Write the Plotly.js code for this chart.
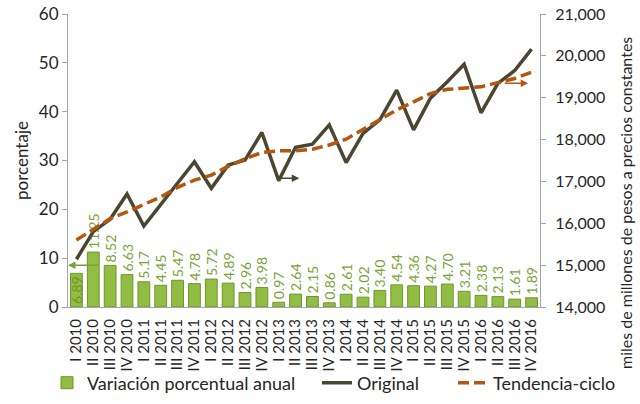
<!DOCTYPE html>
<html>
<head>
<meta charset="utf-8">
<script src="https://cdn.plot.ly/plotly-3.0.1.min.js"></script>
<style>html,body{margin:0;padding:0;background:#fff;}#chart{width:640px;height:404px;}</style>
</head>
<body>
<div id="chart"></div>
<script>
// ---- data ----
var categories = ["I 2010","II 2010","III 2010","IV 2010","I 2011","II 2011","III 2011","IV 2011",
  "I 2012","II 2012","III 2012","IV 2012","I 2013","II 2013","III 2013","IV 2013",
  "I 2014","II 2014","III 2014","IV 2014","I 2015","II 2015","III 2015","IV 2015",
  "I 2016","II 2016","III 2016","IV 2016"];
var variacion = [6.89,11.25,8.52,6.63,5.17,4.45,5.47,4.78,5.72,4.89,2.96,3.98,0.97,2.64,2.15,0.86,
  2.61,2.02,3.40,4.54,4.36,4.27,4.70,3.21,2.38,2.13,1.61,1.89];
var original = [15140,15800,16095,16700,15935,16446,16960,17470,16836,17390,17510,18170,17020,17815,17890,18350,
  17450,18150,18470,19180,18230,18990,19380,19800,18640,19340,19650,20160];
var tendencia = [15600,15850,16110,16270,16440,16630,16860,17030,17150,17360,17540,17690,17730,17730,17770,17870,
  18010,18240,18470,18710,18900,19100,19200,19220,19260,19360,19460,19610];
var seriesNames = ["Variación porcentual anual","Original","Tendencia-ciclo"];
var leftTitle = "porcentaje";
var rightTitle = "miles de millones de pesos a precios constantes";

// ---- styles ----
var FONT = "Lato, 'Open Sans', sans-serif";
var AXC = "#A6A6A6";
var TXT = "#262626";
var GREEN = "#92BD45";
var LABELG = "#7AA33A";

var textPos = variacion.map(function(v, i){ return i === 0 ? "inside" : "outside"; });

var traces = [
  {
    type: "bar", x: categories, y: variacion, name: seriesNames[0],
    yaxis: "y", xaxis: "x", legend: "legend",
    marker: {color: GREEN, line: {color: "#6F962C", width: 1}},
    text: variacion.map(function(v){ return v.toFixed(2); }),
    textposition: textPos, insidetextanchor: "start", textangle: -90,
    textfont: {family: FONT, size: 14, color: LABELG},
    insidetextfont: {family: FONT, size: 14, color: "#6F962C"},
    outsidetextfont: {family: FONT, size: 14, color: LABELG},
    constraintext: "none", cliponaxis: false,
    hoverinfo: "skip"
  },
  {
    type: "scatter", mode: "lines", x: categories, y: original, name: seriesNames[1],
    yaxis: "y2", xaxis: "x", legend: "legend2",
    line: {color: "#4B4631", width: 3.5},
    hoverinfo: "skip"
  },
  {
    type: "scatter", mode: "lines", x: categories, y: tendencia, name: seriesNames[2],
    yaxis: "y2", xaxis: "x", legend: "legend3",
    line: {color: "#B3560F", width: 3.5, dash: "11px,5px"},
    hoverinfo: "skip"
  }
];

var tickBounds = [];
for (var k = 0; k <= categories.length; k += 2) tickBounds.push(k - 0.5);

var plotL = 68, plotR = 540, plotT = 14, plotB = 307;
var pw = plotR - plotL, ph = plotB - plotT;
function px2paperX(px){ return (px - plotL) / pw; }
function px2paperY(py){ return (plotB - py) / ph; }

var legendFont = {family: FONT, size: 18, color: TXT};
var legY = (404 - 383) / 404;

function legendAt(px){
  return {orientation: "h", x: px / 640, xref: "container", xanchor: "left",
    y: legY, yref: "container", yanchor: "middle",
    font: legendFont, bgcolor: "rgba(0,0,0,0)", borderwidth: 0};
}

var layout = {
  width: 640, height: 404,
  margin: {l: plotL, r: 640 - plotR, t: plotT, b: 404 - plotB, pad: 0, autoexpand: false},
  paper_bgcolor: "#fff", plot_bgcolor: "#fff",
  font: {family: FONT, color: TXT},
  bargap: 0.3,
  xaxis: {
    type: "category", range: [-0.5, categories.length - 0.5],
    tickmode: "array", tickvals: categories, ticktext: categories,
    showline: true, linecolor: AXC, linewidth: 1,
    ticks: "", tickangle: -90, tickfont: {family: FONT, size: 15, color: TXT},
    ticklabelstandoff: 5, automargin: false,
    showgrid: false, zeroline: false, fixedrange: true
  },
  xaxis2: {
    overlaying: "x", anchor: "y", side: "bottom",
    range: [-0.5, categories.length - 0.5],
    tickmode: "array", tickvals: tickBounds, showticklabels: false,
    ticks: "outside", ticklen: 6, tickcolor: AXC, tickwidth: 1,
    showline: false, showgrid: false, zeroline: false
  },
  yaxis: {
    range: [0, 60], dtick: 10, showline: true, linecolor: AXC, linewidth: 1,
    ticks: "outside", ticklen: 5, tickcolor: AXC,
    tickfont: {family: FONT, size: 17, color: TXT},
    showgrid: false, zeroline: false, automargin: false,
    title: {text: leftTitle, font: {family: FONT, size: 17, color: TXT}, standoff: 5}
  },
  yaxis2: {
    range: [14000, 21000], dtick: 1000, overlaying: "y", side: "right", anchor: "x",
    tickformat: ",d",
    showline: true, linecolor: AXC, linewidth: 1,
    ticks: "outside", ticklen: 5, tickcolor: AXC,
    tickfont: {family: FONT, size: 16, color: TXT},
    ticklabelstandoff: 6, automargin: false,
    showgrid: false, zeroline: false
  },
  legend: legendAt(47),
  legend2: legendAt(317),
  legend3: legendAt(453),
  annotations: [
    {xref: "paper", yref: "paper", x: px2paperX(625), y: px2paperY(203),
     text: rightTitle, textangle: -90, showarrow: false,
     font: {family: FONT, size: 16, color: TXT}, xanchor: "center", yanchor: "middle"},
    {xref: "paper", yref: "y", x: 0, y: 8.55, ax: 32, ay: 0, axref: "pixel", ayref: "pixel",
     showarrow: true, arrowhead: 2, arrowsize: 1, arrowwidth: 1.5, arrowcolor: "#77A040", text: ""},
    {xref: "x", yref: "y2", x: 13.22, y: 17075, ax: -20, ay: 0,
     showarrow: true, arrowhead: 2, arrowsize: 1, arrowwidth: 1.5, arrowcolor: "#4B4631", text: ""},
    {xref: "x", yref: "y2", x: 26.8, y: 19344, ax: -25, ay: 0,
     showarrow: true, arrowhead: 2, arrowsize: 1, arrowwidth: 1.5, arrowcolor: "#B3560F", text: ""}
  ],
  showlegend: true
};

Plotly.newPlot("chart", traces, layout, {staticPlot: true, displayModeBar: false});
</script>
</body>
</html>
